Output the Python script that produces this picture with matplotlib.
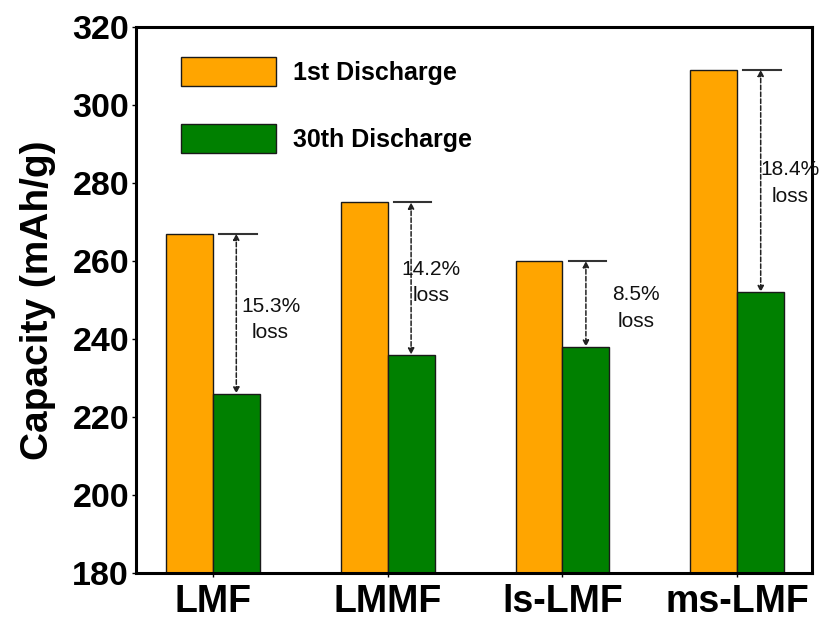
import numpy as np
import matplotlib.pyplot as plt

plt.rcParams['font.family'] = ['Liberation Sans', 'DejaVu Sans']

samples = ['LMF', 'LMMF', 'ls-LMF', 'ms-LMF']
first_discharge = [267, 275, 260, 309]
thirtieth_discharge = [226, 236, 238, 252]
loss_labels = ['15.3%\nloss', '14.2%\nloss', '8.5%\nloss', '18.4%\nloss']
# where each loss label sits (x offset from group centre, y in mAh/g)
label_dx = [0.33, 0.25, 0.42, 0.30]
label_y = [245, 254.5, 248, 280]

x = np.arange(len(samples))
w = 0.268

fig = plt.figure(figsize=(8.19, 6.23), dpi=100)
ax = fig.add_axes([0.166, 0.080, 0.826, 0.877])

ax.bar(x - w / 2, first_discharge, w, color='#FFA500', edgecolor='#1a1a1a',
       linewidth=1.0, label='1st Discharge')
ax.bar(x + w / 2, thirtieth_discharge, w, color='#008000', edgecolor='#1a1a1a',
       linewidth=1.0, label='30th Discharge')

for i in range(len(samples)):
    xa = x[i] + w / 2
    ax.plot([x[i] + 0.035, x[i] + 0.25], [first_discharge[i]] * 2,
            color='#333333', lw=1.5)
    ax.annotate('', xy=(xa, thirtieth_discharge[i]), xytext=(xa, first_discharge[i]),
                arrowprops=dict(arrowstyle='<|-|>', color='#222222', lw=1.1,
                                ls=(0, (3, 1.5)), mutation_scale=9,
                                shrinkA=0, shrinkB=0))
    ax.text(x[i] + label_dx[i], label_y[i], loss_labels[i], ha='center',
            va='center', fontsize=15, linespacing=1.5, color='#111111')

ax.set_xlim(-0.44, 3.43)
ax.set_ylim(180, 320)
ax.set_yticks(np.arange(180, 321, 20))
ax.set_xticks(x)
ax.set_xticklabels(samples, fontsize=27, fontweight='bold')
for lab in ax.get_yticklabels():
    lab.set_fontsize(24.5)
    lab.set_fontweight('bold')
ax.tick_params(axis='y', length=3, width=1, pad=2)
ax.tick_params(axis='x', length=3, width=1, pad=5)
ax.set_ylabel('Capacity (mAh/g)', fontsize=28, fontweight='bold', labelpad=12)
for s in ax.spines.values():
    s.set_linewidth(2.2)

ax.legend(loc='upper left', bbox_to_anchor=(0.034, 0.985), frameon=False,
          prop={'size': 18, 'weight': 'bold'}, handlelength=3.8,
          handleheight=1.4, labelspacing=1.5, handletextpad=0.65)

fig.savefig('out.png', dpi=100)
